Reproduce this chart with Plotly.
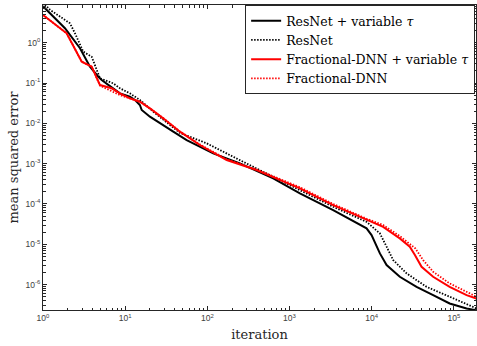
import plotly.graph_objects as go

# ---------------- data ----------------
resnet_var_x = [1, 1.85, 2.82, 3.73, 4.71, 5.18, 6.85, 8.65, 11.4, 13.2, 15.1, 15.9, 20, 26.5,
                38.5, 56, 89, 118, 249, 634, 1339, 3400, 8670, 9970, 12600, 15200, 22000,
                35200, 56000, 89000, 143000, 189000]
resnet_var_y = [8.0, 2.28, 0.73, 0.254, 0.143, 0.119, 0.078, 0.0555, 0.0457, 0.038, 0.0285, 0.0214,
                0.0146, 0.0100, 0.0062, 0.00385, 0.0024, 0.0018, 0.00102, 4.3e-4, 1.83e-4, 7.07e-5,
                2.48e-5, 1.69e-5, 5.94e-6, 3.05e-6, 1.56e-6, 8.8e-7, 5.5e-7, 3.4e-7, 2.56e-7, 2.3e-7]

resnet_x = [1, 1.22, 2.13, 2.45, 3.09, 3.73, 3.91, 4.94, 5.96, 7.16, 8.65, 11.4, 15.1, 22, 46.4,
            98, 249, 1339, 3400, 8670, 12600, 15200, 18300, 26600, 46600, 89000, 189000]
resnet_y = [10, 6.5, 3.03, 1.71, 0.60, 0.495, 0.45, 0.131, 0.114, 0.098, 0.074, 0.0555, 0.038,
            0.0194, 0.0058, 0.0032, 0.00122, 2.22e-4, 8.5e-5, 3.6e-5, 1.86e-5, 8.7e-6, 4.05e-6,
            1.9e-6, 8.8e-7, 5e-7, 2.56e-7]

frac_var_x = [1, 1.94, 2.96, 3.91, 4.94, 6.85, 8.65, 11.4, 15.1, 20, 29, 46.4, 81, 172, 398,
              1339, 3400, 8670, 13800, 22000, 29100, 33600, 40500, 56000, 89000, 143000, 189000]
frac_var_y = [4.87, 1.71, 0.338, 0.254, 0.089, 0.074, 0.0555, 0.0417, 0.0344, 0.0236, 0.0133,
              0.0062, 0.0029, 0.00123, 6.9e-4, 2.44e-4, 9.4e-5, 4.0e-5, 2.7e-5, 1.4e-5, 8.7e-6,
              5.4e-6, 2.77e-6, 1.56e-6, 8.8e-7, 5.5e-7, 4.5e-7]

frac_x = [1, 1.94, 2.96, 3.91, 4.94, 6.85, 8.65, 11.4, 15.1, 20, 29, 46.4, 81, 172, 398,
          1339, 3400, 8670, 13800, 22000, 29100, 34000, 42300, 56000, 89000, 143000, 189000]
frac_y = [4.87, 1.71, 0.338, 0.254, 0.086, 0.064, 0.050, 0.0417, 0.0344, 0.0236, 0.0135,
          0.0063, 0.0030, 0.00128, 7.2e-4, 2.6e-4, 1.0e-4, 4.3e-5, 3.0e-5, 1.6e-5, 1.05e-5,
          7.9e-6, 4.05e-6, 2.08e-6, 1.07e-6, 6.5e-7, 5.0e-7]

series_names = ["ResNet + variable <i>τ</i>", "ResNet",
                "Fractional-DNN + variable <i>τ</i>", "Fractional-DNN"]

x_major = [1, 10, 100, 1000, 10000, 100000]
x_labels = ["10<sup>0</sup>", "10<sup>1</sup>", "10<sup>2</sup>", "10<sup>3</sup>",
            "10<sup>4</sup>", "10<sup>5</sup>"]
y_major = [1e-6, 1e-5, 1e-4, 1e-3, 1e-2, 1e-1, 1e0]
y_labels = ["10<sup>-6</sup>", "10<sup>-5</sup>", "10<sup>-4</sup>", "10<sup>-3</sup>",
            "10<sup>-2</sup>", "10<sup>-1</sup>", "10<sup>0</sup>"]

x_minor = [m * 10 ** e for e in range(0, 6) for m in range(2, 10)]
y_minor = [m * 10.0 ** e for e in range(-7, 1) for m in range(2, 10)]

SERIF = "DejaVu Serif"
DOT = "1.5px,1.5px"

# ---------------- figure ----------------
fig = go.Figure()
fig.add_trace(go.Scatter(x=resnet_var_x, y=resnet_var_y, mode="lines", name=series_names[0],
                         line=dict(color="black", width=2)))
fig.add_trace(go.Scatter(x=resnet_x, y=resnet_y, mode="lines", name=series_names[1],
                         line=dict(color="black", width=1.8, dash=DOT)))
fig.add_trace(go.Scatter(x=frac_var_x, y=frac_var_y, mode="lines", name=series_names[2],
                         line=dict(color="#ff0000", width=2)))
fig.add_trace(go.Scatter(x=frac_x, y=frac_y, mode="lines", name=series_names[3],
                         line=dict(color="#ff0000", width=1.8, dash=DOT)))

axis_common = dict(
    showgrid=False, zeroline=False, showline=True, linecolor="#262626", linewidth=1,
    mirror="allticks", ticks="inside", ticklen=4, tickcolor="#262626", tickwidth=1,
    tickfont=dict(family="Liberation Sans, Arial, sans-serif", size=8.5, color="#404040"),
    tickmode="array",
)

fig.update_xaxes(type="log", range=[0, 5.27], tickvals=x_major, ticktext=x_labels,
                 minor=dict(tickmode="array", tickvals=x_minor, ticks="inside", ticklen=2.5,
                            tickcolor="#262626", tickwidth=1),
                 title=dict(text="iteration", standoff=7,
                            font=dict(family=SERIF, size=13, color="#262626")),
                 **axis_common)
fig.update_yaxes(type="log", range=[-6.63, 0.935], tickvals=y_major, ticktext=y_labels,
                 minor=dict(tickmode="array", tickvals=y_minor, ticks="inside", ticklen=2.5,
                            tickcolor="#262626", tickwidth=1),
                 title=dict(text="mean squared error", standoff=3,
                            font=dict(family=SERIF, size=13, color="#262626")),
                 **axis_common)

fig.update_layout(
    width=477, height=346,
    margin=dict(l=43, r=1, t=5, b=36),
    paper_bgcolor="white", plot_bgcolor="white",
    showlegend=True,
    legend=dict(x=0.998, y=1.0, xanchor="right", yanchor="top",
                bgcolor="white", bordercolor="#262626", borderwidth=1,
                font=dict(family=SERIF, size=12.5, color="black"),
                itemwidth=30, tracegroupgap=0),
)

fig.write_html("out.html")
